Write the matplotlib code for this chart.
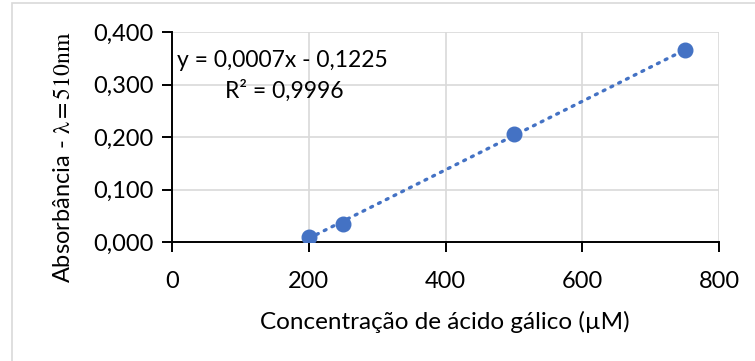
import numpy as np
import matplotlib.pyplot as plt
from matplotlib.patches import Rectangle

# data
conc = [200, 250, 500, 750]          # µM
absorb = [0.010, 0.035, 0.205, 0.365]
x_ticks = [0, 200, 400, 600, 800]
y_ticks = [0.0, 0.1, 0.2, 0.3, 0.4]
eq_text = "y = 0,0007x - 0,1225"
r2_text = "R² = 0,9996"

blue = "#4472C4"
plt.rcParams['font.family'] = ['Lato', 'DejaVu Sans']
plt.rcParams['mathtext.fontset'] = 'stix'

fig = plt.figure(figsize=(7.55, 3.61), dpi=100)
ax = fig.add_axes([172/755, 1 - 242/361, (719 - 172)/755, (242 - 32)/361])

# chart area border (cut off on right/bottom)
fig.patches.append(Rectangle((12/755, -0.2), 1.2, 1.2 - 3/361,
                             transform=fig.transFigure, fill=False,
                             edgecolor='#d9d9d9', linewidth=1.2))

# trendline
coef = np.polyfit(conc, absorb, 1)
xl = np.array([min(conc), max(conc)])
ax.plot(xl, np.polyval(coef, xl), linestyle=(0, (0.6, 2.0)), color=blue,
        linewidth=2.4, dash_capstyle='round', zorder=3)
ax.plot(conc, absorb, 'o', color=blue, markersize=10.5, zorder=4)

ax.set_xlim(0, 800)
ax.set_ylim(0, 0.4)
ax.set_xticks(x_ticks)
ax.set_yticks(y_ticks)
ax.set_xticklabels([str(v) for v in x_ticks])
ax.set_yticklabels([f"{v:.3f}".replace('.', ',') for v in y_ticks])
ax.grid(True, color='#d9d9d9', linewidth=1.2)
ax.set_axisbelow(True)
for s in ['top', 'right']:
    ax.spines[s].set_visible(False)
for s in ['left', 'bottom']:
    ax.spines[s].set_color('black')
    ax.spines[s].set_linewidth(1.4)
ax.tick_params(axis='both', direction='out', length=7, width=1.4,
               labelsize=17, colors='black', pad=6)
ax.tick_params(axis='x', pad=14)

ax.text(0.01, 0.865, eq_text, transform=ax.transAxes, fontsize=16.5,
        va='center', ha='left')
ax.text(0.205, 0.72, r2_text, transform=ax.transAxes, fontsize=16.5,
        va='center', ha='center')

fig.text(445/755, 1 - 322/361, "Concentração de ácido gálico (µM)",
         fontsize=17.5, ha='center', va='center')
fig.text(64/755, 1 - 157/361, r"Absorbância - $\mathrm{\lambda{=}510nm}$",
         fontsize=17, rotation=90, ha='center', va='center')

fig.savefig("out.png", dpi=100)
